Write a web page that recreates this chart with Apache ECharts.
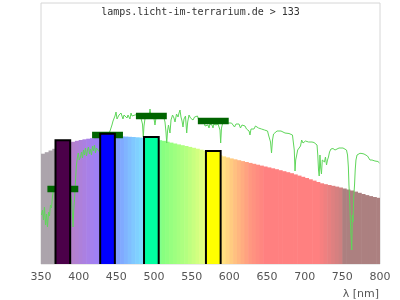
<!DOCTYPE html>
<html><head><meta charset="utf-8">
<script src="https://cdn.jsdelivr.net/npm/echarts@6/dist/echarts.min.js"></script>
<style>html,body{margin:0;padding:0;background:#fff}#c{width:400px;height:300px}</style>
</head><body><div id="c"></div>
<script>
const titleText = 'lamps.licht-im-terrarium.de > 133';
const axisName = 'λ [nm]';
const xMin = 350, xMax = 800, xStep = 50;

// reference (daylight) curve, 5 nm bins starting at 350 nm
const bgStart = 350, bgStep = 5;
const bgValues = [110.3,111.8,113.5,115.2,116.8,118.3,119.7,121,122.2,123.2,
  124,124.7,125.3,125.8,126.2,126.6,126.9,127.1,127.3,127.4,
  127.5,127.5,127.4,127.2,127,126.7,126.4,126,125.6,125,
  124.4,123.8,123.2,122.3,121.4,120.5,119.6,118.8,118,117.1,
  116.2,115.3,114.3,113.3,112.2,111.1,110,108.8,107.6,106.6,
  105.6,104.7,103.8,102.9,102,101.1,100.2,99.3,98.4,97.5,
  96.6,95.7,94.8,93.8,92.8,91.8,90.8,89.6,88.4,87.2,
  86,84.7,83.4,82,80.7,79.8,79,78.2,77.4,76.5,
  75.5,74.5,73.5,72.4,71.2,70,68.9,67.9,67,66.2];

// measured spectrum (green line)
const lineWl = [350.7,352,353.3,354.6,356,357.3,358.6,360,361.3,362.6,364,365.3,366.6,369,373,377,381,385,389,
  390.5,391.8,392.5,393.4,394.5,395.5,396.9,398.2,399.5,400.8,402.4,403.8,405.1,406.4,407.7,409,410.4,411.7,413,414.4,
  415.7,417,418.4,419.7,421,422.3,423.7,425,426.3,427.7,430,432,435,438,441.6,442.9,444.2,445.6,446.9,448.2,449.6,
  450.9,452.2,453.5,454.9,456.2,457.5,458.8,460.2,461.5,462.8,464.2,465.5,466.8,468.1,469.5,470.8,472.1,473.4,474.8,
  477.4,480.1,482.7,484.7,485.8,486.7,488,490,492,493.3,494.7,496,497.3,499.3,501.3,502.6,504.6,506.6,508.6,510.6,
  512.6,514.6,515.9,516.9,518,519.2,521.2,522.6,524.6,526.5,527.9,529.9,531.9,533.2,534.5,535.8,537.2,538.5,539.8,
  541.8,543.4,544.7,546.5,548.4,550,551.8,553.8,555.7,557.7,559.7,561.1,562.4,563.7,565,566.4,567.7,569,570.3,571.7,
  573,574.3,575.7,577,578.3,579.6,581,582.3,583.6,585,586.3,587.6,588.5,589.6,590.9,592.9,594.9,596.9,598.9,600.9,
  602.9,604.9,606.9,608.8,610.8,612.8,614.8,616.8,618.8,620.8,622.8,624.8,626.2,627.4,628.8,630.7,632.7,634.7,636.7,
  638.7,640.7,642.7,644.7,646.7,648.6,650.7,652,653.3,654.7,656,657.3,658.7,660.6,663.3,665.9,668.6,671.2,673.9,
  676.5,679.2,681.8,683.8,685.2,686.2,687.2,688.1,689.2,690.7,692.5,694.5,696,697.8,699.1,701.1,703.1,705.1,707.1,
  709.7,712.4,714.4,716.4,717.4,718.4,719.3,720.3,721.3,722.3,723.4,724.7,726.3,727.6,729,730.3,731.6,733,734.9,
  737.6,740.3,742.9,745.6,748.2,750.9,753.5,755.5,756.9,758,758.8,759.8,760.6,761.5,762.5,763.3,764.2,765.1,766.2,
  767.1,768.1,769.5,771.5,773.4,776.1,778.8,781.4,783.4,785.4,786.7,788.1,789.4,791.4,793.3,795.3,797.3,799.3];
const lineVal = [49,54,44,57,39,50,37,52,48,59,56,68,74,78,83,88,90,84,72,
  64,49,37,54,64,79,98,106,111,104,107,112,106,114,109,116,108,114,117,110,
  115,109,118,113,119,111,116,114,118,112,106,110,120,127,133,136,139,143,145,148,152,
  145,143,149,147,151,148,145,149,147,150,146,149,147,145,151,148,150,146,149,
  147,150,146,140,127,138,145,148,150,147,155,148,145,149,139,146,149,147,150,145,
  148,142,132,121,133,139,131,144,149,146,142,150,147,151,154,147,143,137,145,
  148,131,142,149,146,148,144,147,145,148,143,146,141,144,140,143,138,140,137,139,
  136,140,138,139,136,140,138,139,137,140,138,134,121,136,140,139,142,140,141,139,
  141,140,137,140,138,140,136,139,137,138,135,137,133,129,135,137,135,138,136,
  136,137,135,136,134,134,133,129,131,122,111,124,130,132,133,132.5,133,132,131,
  131,130.5,130,129,127,114,93,104,108,114,116,118,124,121,119,123,121,122,122,
  122,121.5,120.7,119,109,94,88,109,96,90,104,106,102,107,99,104,107,112,115,
  115.5,114,115,116,116.5,116,115.5,114,109,97,79,64,44,29,14,49,42,67,79,
  94,104,109,110.5,110.7,110.5,110,109,108,106,104,105.5,104,102.5,103,101,102.5,101];

// receptor bands (bars) and measured band levels (dark green markers)
const bandCenters = [379, 438.3, 496.5, 578.7];
const bandValues = [123.7, 130.3, 127, 113];
const markerValues = [75, 129, 148, 143];

const bandColors = ['#4b0049', '#0000ff', '#00ffa0', '#ffff00'];
const colorStops = [
  [350,[172,164,172]],[369.9,[172,164,172]],
  [370,[178,138,196]],[390,[180,128,204]],[410,[168,128,232]],[430,[152,128,255]],
  [450,[128,160,255]],[470,[128,200,255]],[490,[128,232,255]],
  [505,[128,255,140]],[510,[136,255,128]],[540,[180,255,128]],[570,[240,255,128]],
  [585,[255,236,128]],[590,[255,224,128]],[605,[255,192,128]],[625,[255,152,128]],[645,[255,128,128]],
  [715,[255,128,128]],[745,[206,128,128]],[749.9,[204,128,128]],[750,[172,128,128]],[800,[172,128,128]]
];
function specColor(w) {
  for (let i = 0; i < colorStops.length - 1; i++) {
    const a = colorStops[i], b = colorStops[i + 1];
    if (w >= a[0] && w <= b[0]) {
      const t = (w - a[0]) / (b[0] - a[0] || 1);
      const c = a[1].map((v, k) => Math.round(v + (b[1][k] - v) * t));
      return 'rgb(' + c.join(',') + ')';
    }
  }
  return 'rgb(172,128,128)';
}

const chart = echarts.init(document.getElementById('c'), null, {renderer: 'canvas'});
const bgData = bgValues.map((v, i) => [bgStart + i * bgStep, v]);
const lineData = lineWl.map((w, i) => [w, lineVal[i]]);
const barData = bandCenters.map((c, i) => [c, bandValues[i], i]);
const markerData = bandCenters.map((c, i) => [c, markerValues[i]]);

chart.setOption({
  animation: false,
  backgroundColor: '#fff',
  grid: {left: 41, right: 20, top: 3, bottom: 36, show: true, borderColor: '#d6d6d6', borderWidth: 1, backgroundColor: 'transparent'},
  xAxis: {type: 'value', min: xMin, max: xMax, interval: xStep,
    axisLine: {show: false}, axisTick: {show: false}, splitLine: {show: false},
    axisLabel: {color: '#555', fontSize: 11, fontFamily: 'DejaVu Sans', margin: 8}},
  yAxis: {type: 'value', min: 0, max: 261, show: false},
  graphic: [
    {type: 'text', x: 200.5, y: 12, style: {text: titleText, font: '10px "DejaVu Sans Mono"', fill: '#333', textAlign: 'center', textVerticalAlign: 'middle'}},
    {type: 'text', x: 379, y: 294, style: {text: axisName, font: '11px "DejaVu Sans"', fill: '#555', textAlign: 'right', textVerticalAlign: 'middle'}}
  ],
  series: [
    {type: 'custom', z: 1, clip: true, data: bgData, silent: true,
      renderItem(params, api) {
        const w = api.value(0), v = api.value(1);
        const p0 = api.coord([w, v]), p1 = api.coord([w + bgStep, 0]);
        return {type: 'rect', shape: {x: p0[0], y: p0[1], width: p1[0] - p0[0] + 0.6, height: p1[1] - p0[1]},
          style: {fill: specColor(w)}};
      }},
    {type: 'line', z: 3, data: lineData, showSymbol: false, symbol: 'none', silent: true,
      lineStyle: {width: 1, color: '#5fd65a'}},
    {type: 'custom', z: 5, clip: true, data: markerData, silent: true,
      renderItem(params, api) {
        const c = api.value(0), v = api.value(1);
        const p0 = api.coord([c - 20.5, v]), p1 = api.coord([c + 20.5, v]);
        return {type: 'rect', shape: {x: p0[0], y: p0[1] - 3.25, width: p1[0] - p0[0], height: 6.5},
          style: {fill: '#006400'}};
      }},
    {type: 'custom', z: 7, clip: true, data: barData, silent: true,
      renderItem(params, api) {
        const c = api.value(0), v = api.value(1), idx = api.value(2);
        const p0 = api.coord([c - 9.75, v]), p1 = api.coord([c + 9.75, 0]);
        return {type: 'rect', shape: {x: p0[0], y: p0[1], width: p1[0] - p0[0], height: p1[1] - p0[1] + 4},
          style: {fill: bandColors[idx], stroke: '#000', lineWidth: 2}};
      }}
  ]
});
</script></body></html>
